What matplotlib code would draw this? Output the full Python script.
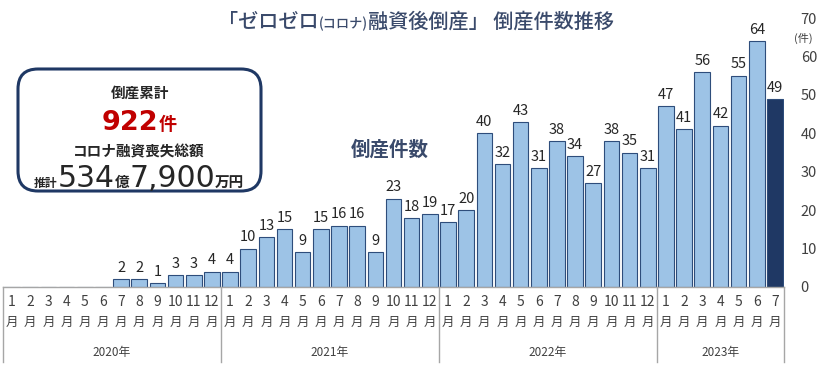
import matplotlib
matplotlib.use('Agg')
import matplotlib.pyplot as plt
from matplotlib.patches import FancyBboxPatch
import matplotlib.transforms as mtransforms

plt.rcParams['font.family'] = ['Noto Sans CJK JP', 'DejaVu Sans']

# monthly bankruptcies, 2020-01 .. 2023-07
months = list(range(1, 13)) * 3 + list(range(1, 8))
counts = [0, 0, 0, 0, 0, 0, 2, 2, 1, 3, 3, 4,
          4, 10, 13, 15, 9, 15, 16, 16, 9, 23, 18, 19,
          17, 20, 40, 32, 43, 31, 38, 34, 27, 38, 35, 31,
          47, 41, 56, 42, 55, 64, 49]
years = ['2020年', '2021年', '2022年', '2023年']
year_lengths = [12, 12, 12, 7]
y_ticks = [0, 10, 20, 30, 40, 50, 60, 70]

W, H = 831, 365
fig = plt.figure(figsize=(W / 100, H / 100), dpi=100)
ax = fig.add_axes([3 / W, 78 / H, 781 / W, 269 / H])

light = '#9DC3E6'
edge = '#2E4D7B'
dark = '#1F3864'
text_col = '#3A4A6B'
grid_col = '#A6A6A6'

x = list(range(len(counts)))
colors = [light] * (len(counts) - 1) + [dark]
ax.bar(x, counts, width=0.86, color=colors, edgecolor=edge, linewidth=0.8)

for xi, v in zip(x, counts):
    if v > 0:
        ax.annotate(str(v), (xi, v), xytext=(0, 3), textcoords='offset points',
                    ha='center', va='bottom', fontsize=10.5, color='#262626')

ax.set_xlim(-0.5, len(counts) - 0.5)
ax.set_ylim(0, 70)
for s in ax.spines.values():
    s.set_visible(False)
ax.set_xticks([])
ax.yaxis.tick_right()
ax.set_yticks(y_ticks)
ax.tick_params(axis='y', length=0, pad=12, labelsize=10.5, labelcolor='#404040')

# category axis below the bars
trans = mtransforms.blended_transform_factory(ax.transData, ax.transAxes)
ax.plot([-0.5, len(counts) - 0.5], [0, 0], color=grid_col, lw=1,
        transform=trans, clip_on=False)
for xi, m in zip(x, months):
    ax.text(xi, -0.056, str(m), transform=trans, ha='center', va='center',
            fontsize=10, color='#404040')
    ax.text(xi, -0.13, '月', transform=trans, ha='center', va='center',
            fontsize=9, color='#404040')

start = 0
bounds = [-0.5]
for yr, n in zip(years, year_lengths):
    ax.text(start + (n - 1) / 2, -0.242, yr, transform=trans, ha='center',
            va='center', fontsize=8.5, color='#404040')
    start += n
    bounds.append(start - 0.5)
for b in bounds:
    ax.plot([b, b], [0, -0.279], color=grid_col, lw=1, transform=trans,
            clip_on=False)

# overlay in pixel coordinates for the annotations
ov = fig.add_axes([0, 0, 1, 1], zorder=5)
ov.set_xlim(0, W)
ov.set_ylim(H, 0)
ov.axis('off')

ov.text(803, 38, '(件)', ha='center', va='center', fontsize=8, color='#404040')


def chain_text(xc, y, parts):
    """Place text pieces of different sizes side by side, centred on xc (pixels)."""
    renderer = fig.canvas.get_renderer()
    items = []
    for s, size, color, weight, fam in parts:
        t = ov.text(0, y, s, fontsize=size, color=color, weight=weight,
                    va='baseline', ha='left', family=fam)
        w = t.get_window_extent(renderer).width
        items.append((t, w))
    total = sum(w for _, w in items)
    pos = xc - total / 2
    for t, w in items:
        t.set_x(pos)
        pos += w


cjk = ['Noto Sans CJK JP', 'DejaVu Sans']
dv = ['DejaVu Sans']

chain_text(416, 28, [('「ゼロゼロ', 14.5, text_col, 'medium', cjk),
                     ('(コロナ)', 9.5, text_col, 'medium', cjk),
                     ('融資後倒産」 倒産件数推移', 14.5, text_col, 'medium', cjk)])

ov.text(390, 150, '倒産件数', ha='center', va='center',
        fontsize=14, weight='bold', color=text_col)

# summary box
box = FancyBboxPatch((18, 69), 243, 122,
                     boxstyle='round,pad=0,rounding_size=20',
                     facecolor='white', edgecolor=dark, linewidth=2.2)
ov.add_patch(box)

ov.text(140, 93, '倒産累計', ha='center', va='center',
        fontsize=10.5, weight='bold', color='#262626')
chain_text(139, 130, [('922', 19.5, '#C00000', 'bold', dv),
                      ('件', 13, '#C00000', 'bold', cjk)])
ov.text(139, 151, 'コロナ融資喪失総額', ha='center', va='center',
        fontsize=10.5, weight='bold', color='#262626')
chain_text(139, 187, [('推計', 8.5, '#262626', 'bold', cjk),
                      ('534', 21.5, '#262626', 'normal', dv),
                      ('億', 10.5, '#262626', 'bold', cjk),
                      ('7,900', 21.5, '#262626', 'normal', dv),
                      ('万円', 10.5, '#262626', 'bold', cjk)])

fig.savefig('out.png', dpi=100)
